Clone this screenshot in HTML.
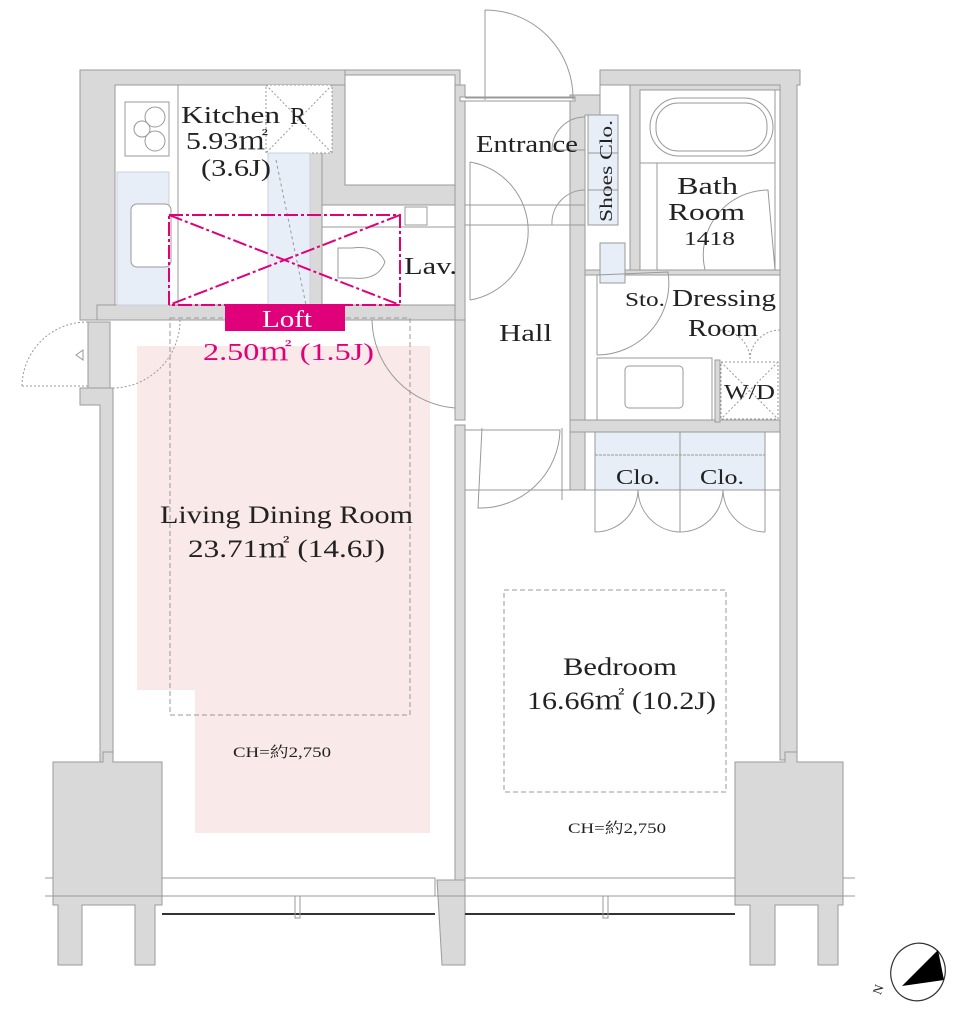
<!DOCTYPE html>
<html><head><meta charset="utf-8"><style>
html,body{margin:0;padding:0;background:#fff;}
svg{display:block}
text{font-family:"Liberation Serif","Noto Serif CJK SC",serif;fill:#222}
</style></head><body>
<svg width="963" height="1024" viewBox="0 0 963 1024" xmlns="http://www.w3.org/2000/svg">
<path d="M137 346 H430 V833 H195 V690 H137 Z" fill="#f9e9e9"/>
<g fill="#d9d9d9" stroke="#9a9a9a" stroke-width="1">
<path d="M80 70 H365 V85 H115 V310 H97 V320 H80 Z"/>
<path d="M345 70 H460 V100 H455 V85 H365 V185 H455 V205 H322 V190 H310 V85 H345 Z"/>
<rect x="310" y="85" width="12" height="225"/>
<path d="M97 305 H465 V320 H97 Z"/>
<rect x="455" y="85" width="10" height="235"/>
<path d="M570 95 H600 V70 H800 V85 H797 V760 H780 V85 H600 V115 H585 V490 H570 Z"/>
<path d="M80 388 H113 V762 H100 V405 H80 Z"/>
<rect x="88" y="322" width="22" height="66"/>
<rect x="455" y="320" width="10" height="100"/>
<rect x="455" y="425" width="10" height="460"/>
<path d="M630 85 H780 V90 H640 V270 H775 V275 H600 V270 H630 Z"/>
<rect x="585" y="270" width="195" height="5"/>
<path d="M570 420 H780 V432 H765 V490 H595 V432 H570 Z"/>
<rect x="715" y="360" width="5" height="62"/>
<path d="M53 762 H103 V752 H113 V762 H162 V905 H155 V965 H135 V905 H82 V965 H58 V905 H53 Z"/>
<path d="M735 762 H785 V752 H797 V762 H843 V905 H838 V965 H818 V905 H775 V965 H750 V905 H735 Z"/>
<path d="M437 880 H465 V965 H442 Z"/>
</g>
<rect x="460" y="97" width="115" height="4" fill="#fff" stroke="#999"/>
<g fill="none" stroke="#999" stroke-width="1">
<rect x="115" y="85" width="195" height="220"/>
<line x1="178" y1="85" x2="178" y2="305"/>
<rect x="125" y="102" width="44" height="54" fill="#fff"/>
<circle cx="155" cy="117" r="10"/><circle cx="142" cy="129" r="8"/><circle cx="155" cy="141" r="10"/>
<rect x="117" y="172" width="52" height="133" fill="#e8eef7" stroke="#ccd"/>
<rect x="131" y="204" width="40" height="63" rx="6" fill="#fff"/>
<rect x="266" y="85" width="66" height="68" stroke-dasharray="2,2" fill="#fff"/>
<line x1="266" y1="85" x2="332" y2="153" stroke-dasharray="2,2"/><line x1="332" y1="85" x2="266" y2="153" stroke-dasharray="2,2"/>
<rect x="268" y="153" width="42" height="152" fill="#e8eef7" stroke="#ccd"/>
<line x1="276" y1="160" x2="306" y2="305" stroke-dasharray="3,3"/>
<rect x="345" y="75" width="110" height="110" fill="#fff"/>
<rect x="322" y="205" width="133" height="100" fill="#fff"/>
<line x1="322" y1="227" x2="455" y2="227"/>
<rect x="405" y="207" width="22" height="18"/>
<path d="M338 248 H352 Q378 245 385 262 Q378 281 352 278 H338 Z"/>
<path d="M485 10 V100 M485 10 A88 88 0 0 1 573 100"/>
<line x1="465" y1="98" x2="575" y2="98"/>
<path d="M470 162 V300 M470 162 A70 70 0 0 1 470 300"/>
<line x1="465" y1="205" x2="585" y2="205"/><line x1="465" y1="225" x2="585" y2="225"/>
<path d="M585 117 A33 33 0 0 0 552 150 H585 M585 190 A33 33 0 0 0 552 225 H585"/>
<rect x="588" y="115" width="30" height="110" fill="#e8eef7"/>
<line x1="588" y1="153" x2="618" y2="153"/><line x1="588" y1="190" x2="618" y2="190"/>
<rect x="640" y="90" width="135" height="180" fill="#fff"/>
<line x1="640" y1="163" x2="775" y2="163"/><line x1="657" y1="163" x2="657" y2="270"/>
<rect x="650" y="98" width="123" height="58" rx="29"/>
<rect x="656" y="103" width="111" height="48" rx="22"/>
<path d="M705 270 A65 65 0 0 1 768 190 L775 270"/>
<rect x="600" y="243" width="25" height="40" fill="#e8eef7"/>
<path d="M597 275 V355 M597 275 L668 272 A72 72 0 0 1 597 355"/>
<rect x="597" y="358" width="115" height="62" fill="#fff"/>
<rect x="625" y="366" width="58" height="42" rx="4"/>
<rect x="721" y="362" width="57" height="57" stroke-dasharray="2,2"/>
<line x1="721" y1="362" x2="778" y2="419" stroke-dasharray="2,2"/><line x1="778" y1="362" x2="721" y2="419" stroke-dasharray="2,2"/>
<path d="M720 330 A30 30 0 0 1 750 360 M780 330 A30 30 0 0 0 750 360" stroke-dasharray="2,2"/>
<rect x="595" y="432" width="85" height="58" fill="#e8eef7"/>
<rect x="680" y="432" width="85" height="58" fill="#e8eef7"/>
<line x1="595" y1="455" x2="765" y2="455" stroke-dasharray="3,1"/>
<path d="M595 490 V532 M638 490 A43 43 0 0 1 595 532 M638 490 A43 43 0 0 0 680 532 M680 490 V532 M723 490 A43 43 0 0 1 680 532 M723 490 A43 43 0 0 0 765 532 M765 490 V532"/>
<path d="M372 320 A90 90 0 0 0 455 408 M372 320 H455"/>
<path d="M482 428 L478 508 A80 80 0 0 0 560 430 H465 M562 428 V500"/>
<rect x="170" y="318" width="240" height="397" stroke-dasharray="5,3"/>
<path d="M22 386 A65 65 0 0 1 88 322 M22 386 H88 M180 320 A68 68 0 0 1 113 388" stroke-dasharray="2,2"/>
<path d="M83 350 L76 355 L83 360 Z"/>
<line x1="465" y1="490" x2="780" y2="490"/>
<rect x="504" y="590" width="222" height="202" stroke-dasharray="5,3"/>
<rect x="162" y="878" width="273" height="18"/>
<rect x="465" y="878" width="270" height="18"/>
<line x1="45" y1="896" x2="855" y2="896"/>
<line x1="45" y1="878" x2="53" y2="878"/><line x1="843" y1="878" x2="855" y2="878"/>
<line x1="162" y1="914" x2="435" y2="914" stroke="#333" stroke-width="2"/>
<line x1="465" y1="914" x2="735" y2="914" stroke="#333" stroke-width="2"/>
<rect x="295" y="896" width="5" height="22"/><rect x="603" y="896" width="5" height="22"/>
</g>
<g stroke="#e0007a" stroke-width="2" fill="none" stroke-dasharray="14,3,3,3">
<rect x="169" y="215" width="231" height="90"/>
<line x1="169" y1="215" x2="400" y2="305"/><line x1="400" y1="215" x2="169" y2="305"/>
</g>
<rect x="225" y="304" width="120" height="27" fill="#e0007a"/>
<g lengthAdjust="spacingAndGlyphs">
<text x="262" y="327" font-size="24" textLength="50" lengthAdjust="spacingAndGlyphs" style="fill:#fff">Loft</text>
<text x="203" y="360" font-size="24" textLength="171" lengthAdjust="spacingAndGlyphs" style="fill:#e0007a">2.50㎡ (1.5J)</text>
<text x="181" y="123" font-size="24" textLength="99" lengthAdjust="spacingAndGlyphs">Kitchen</text>
<text x="186" y="149" font-size="24" textLength="82" lengthAdjust="spacingAndGlyphs">5.93㎡</text>
<text x="201" y="176" font-size="24" textLength="70" lengthAdjust="spacingAndGlyphs">(3.6J)</text>
<text x="290" y="124" font-size="24">R</text>
<text x="404" y="274" font-size="24" textLength="53" lengthAdjust="spacingAndGlyphs">Lav.</text>
<text x="476" y="152" font-size="24" textLength="102" lengthAdjust="spacingAndGlyphs">Entrance</text>
<text x="612" y="222" font-size="18" textLength="102" lengthAdjust="spacingAndGlyphs" transform="rotate(-90 612 222)">Shoes Clo.</text>
<text x="677" y="194" font-size="24" textLength="61" lengthAdjust="spacingAndGlyphs">Bath</text>
<text x="668" y="220" font-size="24" textLength="77" lengthAdjust="spacingAndGlyphs">Room</text>
<text x="684" y="245" font-size="20" textLength="51" lengthAdjust="spacingAndGlyphs">1418</text>
<text x="625" y="306" font-size="20" textLength="40" lengthAdjust="spacingAndGlyphs">Sto.</text>
<text x="672" y="306" font-size="24" textLength="104" lengthAdjust="spacingAndGlyphs">Dressing</text>
<text x="688" y="336" font-size="24" textLength="70" lengthAdjust="spacingAndGlyphs">Room</text>
<text x="724" y="399" font-size="21" textLength="51" lengthAdjust="spacingAndGlyphs">W/D</text>
<text x="499" y="341" font-size="24" textLength="53" lengthAdjust="spacingAndGlyphs">Hall</text>
<text x="616" y="484" font-size="21" textLength="44" lengthAdjust="spacingAndGlyphs">Clo.</text>
<text x="700" y="484" font-size="21" textLength="44" lengthAdjust="spacingAndGlyphs">Clo.</text>
<text x="160" y="523" font-size="25" textLength="253" lengthAdjust="spacingAndGlyphs">Living Dining Room</text>
<text x="188" y="557" font-size="25" textLength="197" lengthAdjust="spacingAndGlyphs">23.71㎡ (14.6J)</text>
<text x="563" y="675" font-size="25" textLength="114" lengthAdjust="spacingAndGlyphs">Bedroom</text>
<text x="527" y="709" font-size="25" textLength="189" lengthAdjust="spacingAndGlyphs">16.66㎡ (10.2J)</text>
<text x="233" y="757" font-size="15" textLength="98" lengthAdjust="spacingAndGlyphs">CH=約2,750</text>
<text x="568" y="833" font-size="15" textLength="98" lengthAdjust="spacingAndGlyphs">CH=約2,750</text>
</g>
<ellipse cx="918" cy="972" rx="27" ry="29" fill="#fff" stroke="#333" stroke-width="1.2" transform="rotate(20 918 972)"/>
<path d="M938 950 L944 980 L902 986 Z" fill="#000"/>
<text x="872" y="993" font-size="13" font-family="Liberation Sans" transform="rotate(-70 878 988)">N</text>
</svg>
</body></html>
